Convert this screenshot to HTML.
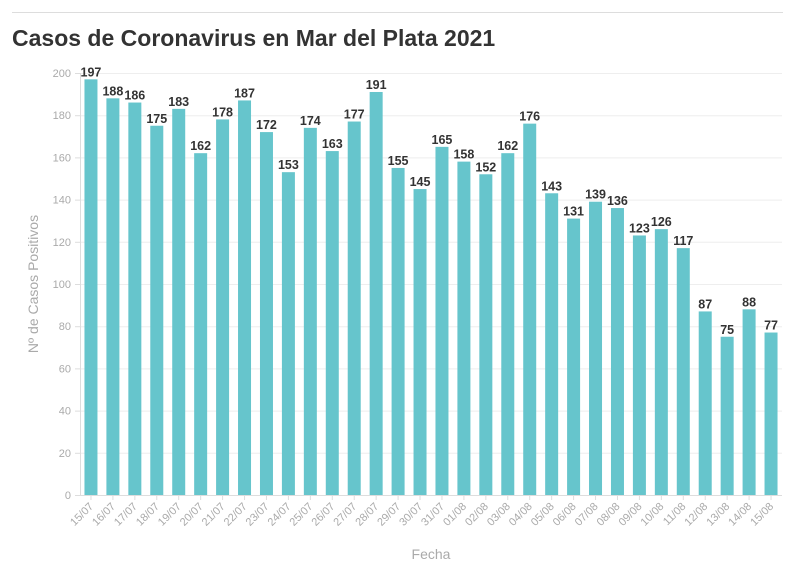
<!DOCTYPE html>
<html><head><meta charset="utf-8"><style>
body{margin:0;background:#fff;font-family:"Liberation Sans",sans-serif;}
</style></head><body>
<svg width="796" height="575" xmlns="http://www.w3.org/2000/svg">
<line x1="12" y1="12.5" x2="783" y2="12.5" stroke="#ddd"/>
<text x="12" y="46" font-size="23" font-weight="bold" fill="#333">Casos de Coronavirus en Mar del Plata 2021</text>
<g id="grid"></g><g id="bars"></g><g id="xl"></g>
<text x="0" y="0" transform="translate(38,284) rotate(-90)" text-anchor="middle" font-size="14" fill="#aaa">Nº de Casos Positivos</text>
<text x="431" y="559" text-anchor="middle" font-size="14" fill="#aaa">Fecha</text>
</svg>
<script>
const categories=["15/07","16/07","17/07","18/07","19/07","20/07","21/07","22/07","23/07","24/07","25/07","26/07","27/07","28/07","29/07","30/07","31/07","01/08","02/08","03/08","04/08","05/08","06/08","07/08","08/08","09/08","10/08","11/08","12/08","13/08","14/08","15/08"];
const values=[197,188,186,175,183,162,178,187,172,153,174,163,177,191,155,145,165,158,152,162,176,143,131,139,136,123,126,117,87,75,88,77];
const yTicks=[0,20,40,60,80,100,120,140,160,180,200];
const NS="http://www.w3.org/2000/svg";
const x0=80,x1=782,y0=495,y1=73,ymax=200;
const bw=(x1-x0)/categories.length;
const y=v=>y0-(y0-y1)*v/ymax;
const xc=i=>x0+bw*(i+0.5);
function mk(t,a,p){const e=document.createElementNS(NS,t);for(const k in a)e.setAttribute(k,a[k]);p.appendChild(e);return e;}
const g=document.getElementById('grid'),b=document.getElementById('bars'),xl=document.getElementById('xl');
yTicks.forEach(t=>{
 const l=mk('line',{x1:x0,x2:x1,y1:y(t)+.5,y2:y(t)+.5,stroke:t===0?'#ddd':'#eee'},g);
 
 
 const tk=mk('line',{x1:x0-5,x2:x0,y1:y(t)+.5,y2:y(t)+.5,stroke:'#ddd'},g);
 
 
 const tx=mk('text',{x:x0-9,y:y(t)+4,'text-anchor':'end','font-size':11,fill:'#aaa'},g);
 tx.textContent=t;
 
 
});
mk('line',{x1:x0+.5,x2:x0+.5,y1:y1,y2:y0,stroke:'#ddd'},g);
values.forEach((v,i)=>{
 const r=mk('rect',{x:xc(i)-6.5,y:y(v),width:13,height:y0-y(v),fill:'#66c5cc'},b);
 
 
 const t=mk('text',{x:xc(i),y:y(v)-3,'text-anchor':'middle','font-size':12.5,'font-weight':'bold',fill:'#333'},b);
 t.textContent=v;
 
 
 const tk=mk('line',{x1:xc(i),x2:xc(i),y1:y0,y2:y0+5,stroke:'#ddd'},xl);
 
 
 const lb=mk('text',{x:0,y:0,transform:`translate(${xc(i)+3},${y0+12}) rotate(-45)`,'text-anchor':'end','font-size':11,fill:'#aaa'},xl);
 lb.textContent=categories[i];
 
 
});
</script>
</body></html>
